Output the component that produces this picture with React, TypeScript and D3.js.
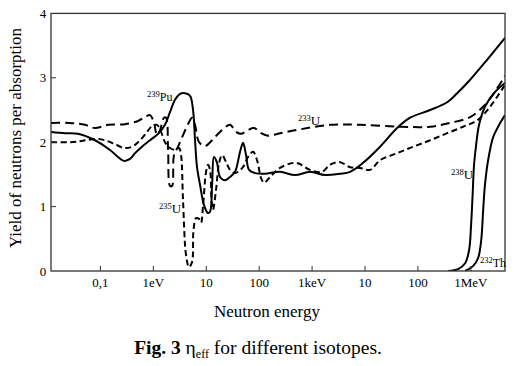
import React from "react";
import * as d3 from "d3";

// Neutron energy (eV) and yield (neutrons per absorption)
const pu239: [number, number][] = [
  [0.0117, 2.16], [0.0214, 2.14], [0.0377, 2.13], [0.079, 2.03], [0.152, 1.88], [0.215, 1.77],
  [0.279, 1.71], [0.363, 1.74], [0.451, 1.83], [0.611, 1.93], [0.866, 2.03], [1.23, 2.13],
  [1.66, 2.27], [2.07, 2.47], [2.57, 2.66], [3.2, 2.75], [3.97, 2.76], [4.94, 2.72],
  [5.63, 2.5], [6.14, 2.03], [6.7, 1.61], [7.63, 1.34], [9.09, 1.02], [10.8, 0.9],
  [11.8, 0.92], [12.9, 1.34], [14.0, 1.77], [16.0, 1.68], [18.2, 1.46], [22.7, 1.41],
  [28.2, 1.46], [35, 1.54], [43.5, 1.85], [49.6, 1.99], [56.5, 1.8], [64.4, 1.57],
  [83.6, 1.52], [129, 1.51], [248, 1.54], [476, 1.49], [916, 1.54], [1760, 1.49],
  [3381, 1.51], [5224, 1.54], [9200, 1.68], [19270, 1.93], [40400, 2.22], [71100, 2.38],
  [170000, 2.5], [357000, 2.62], [551000, 2.76], [970000, 2.97], [2.03e6, 3.28], [4.42e6, 3.62],
];

const u233: [number, number][] = [
  [0.0117, 2.3], [0.0261, 2.3], [0.0512, 2.27], [0.079, 2.22], [0.139, 2.27], [0.292, 2.28],
  [0.514, 2.33], [0.697, 2.39], [0.866, 2.42], [1.03, 2.3], [1.17, 2.11], [1.34, 2.19],
  [1.59, 2.38], [1.74, 2.38], [1.9, 1.88], [2.07, 1.32], [2.26, 1.32], [2.46, 1.8],
  [2.93, 1.93], [3.64, 2.11], [4.53, 2.28], [5.39, 2.38], [6.14, 2.27], [7.31, 2.0],
  [9.5, 1.94], [12.9, 2.03], [18.2, 2.16], [28.2, 2.27], [35.5, 2.17], [45.5, 2.13],
  [61.7, 2.19], [80.1, 2.22], [109, 2.14], [147, 2.1], [248, 2.14], [593, 2.2],
  [2188, 2.27], [8072, 2.27], [46020, 2.24], [170000, 2.24], [406000, 2.3], [970000, 2.39],
  [1.7e6, 2.55], [2.57e6, 2.73], [4.42e6, 3.03],
];

const u235: [number, number][] = [
  [0.0117, 2.0], [0.0261, 2.0], [0.0449, 2.02], [0.079, 2.05], [0.122, 2.03], [0.189, 1.97],
  [0.279, 1.91], [0.396, 1.93], [0.561, 2.03], [0.76, 2.16], [0.945, 2.25], [1.17, 2.27],
  [1.4, 2.16], [1.66, 2.0], [2.07, 1.91], [2.57, 1.88], [3.06, 1.91], [3.34, 1.8],
  [3.64, 1.1], [4.15, 0.25], [4.73, 0.06], [5.39, 0.14], [5.75, 0.64], [6.41, 0.82],
  [7.31, 0.81], [7.97, 0.75], [8.71, 1.02], [9.92, 1.54], [10.8, 1.65], [11.8, 1.57],
  [12.6, 1.1], [13.4, 0.95], [15.3, 1.26], [17.5, 1.68], [19.9, 1.8], [23.7, 1.69],
  [28.2, 1.57], [35, 1.52], [48.1, 1.6], [61.7, 1.77], [76.6, 1.85], [91.2, 1.72],
  [109, 1.44], [124, 1.37], [161, 1.46], [248, 1.6], [499, 1.68], [916, 1.57],
  [1545, 1.54], [2188, 1.65], [3381, 1.69], [5224, 1.61], [8072, 1.6], [12470, 1.57],
  [19270, 1.72], [40400, 1.83], [81100, 1.93], [170000, 2.03], [357000, 2.14],
  [714000, 2.24], [1.32e6, 2.34], [2.3e6, 2.55], [4.42e6, 2.89],
];

const u238: [number, number][] = [
  [372000, 0], [575000, 0.03], [780000, 0.12], [929000, 0.33], [1.01e6, 0.71], [1.08e6, 1.18],
  [1.15e6, 1.65], [1.26e6, 1.96], [1.43e6, 2.27], [1.85e6, 2.55], [2.87e6, 2.78], [4.42e6, 2.92],
];

const th232: [number, number][] = [
  [780000, 0], [1.11e6, 0.08], [1.37e6, 0.2], [1.57e6, 0.48], [1.71e6, 0.95], [1.85e6, 1.34],
  [2.12e6, 1.72], [2.64e6, 2.08], [3.43e6, 2.27], [4.42e6, 2.42],
];

const xTickValues = [0.1, 1, 10, 100, 1e3, 1e4, 1e5, 1e6];
const xTickLabels = ["0,1", "1eV", "10", "100", "1keV", "10", "100", "1MeV"];
const yTickValues = [0, 1, 2, 3, 4];

const FONT = "Liberation Serif, DejaVu Serif, serif";

export default function App() {
  const W = 514, H = 366;
  const left = 51, right = 505, top = 13.4, bottom = 271;
  const x = d3.scaleLog().domain([0.01165, 4.42e6]).range([left, right]);
  const y = d3.scaleLinear().domain([0, 4]).range([bottom, top]);
  const line = d3
    .line<[number, number]>()
    .x((d) => x(d[0]))
    .y((d) => y(d[1]))
    .curve(d3.curveCatmullRom.alpha(0.5));

  const series = [
    { data: u233, dash: "9,5" },
    { data: u235, dash: "6,3.5" },
    { data: pu239, dash: null },
    { data: u238, dash: null },
    { data: th232, dash: null },
  ];

  const iso = (sup: string, el: string, xx: number, yy: number, fs = 13) => (
    <text x={xx} y={yy} fontSize={fs} fill="#000">
      <tspan fontSize={8.5} dy={-4}>{sup}</tspan>
      <tspan dy={4}>{el}</tspan>
    </text>
  );

  return (
    <svg
      width={W}
      height={H}
      style={{ position: "absolute", left: 0, top: 0, background: "#fff", fontFamily: FONT }}
    >
      <defs>
        <clipPath id="plot">
          <rect x={left} y={top} width={right - left} height={bottom - top} />
        </clipPath>
      </defs>
      <g clipPath="url(#plot)">
        {series.map((s, i) => (
          <path
            key={i}
            d={line(s.data) || ""}
            fill="none"
            stroke="#000"
            strokeWidth={2}
            strokeDasharray={s.dash || undefined}
            strokeLinejoin="round"
          />
        ))}
      </g>
      <rect x={left} y={top} width={right - left} height={bottom - top} fill="none" stroke="#333" strokeWidth={1.3} />
      {xTickValues.map((v, i) => (
        <g key={i}>
          <line x1={x(v)} x2={x(v)} y1={bottom} y2={bottom - 5} stroke="#333" strokeWidth={1} />
          <text x={x(v)} y={287} textAnchor="middle" fontSize={13} fill="#000">
            {xTickLabels[i]}
          </text>
        </g>
      ))}
      {yTickValues.map((v) => (
        <g key={v}>
          {v > 0 && v < 4 && <line x1={left} x2={left + 5} y1={y(v)} y2={y(v)} stroke="#333" strokeWidth={1} />}
          <text x={43} y={y(v) + 4.5} textAnchor="middle" fontSize={13} fill="#000">
            {v}
          </text>
        </g>
      ))}
      <text
        transform={`translate(21,138) rotate(-90)`}
        textAnchor="middle"
        fontSize={17}
        fill="#000"
      >
        Yield of neutrons per absorption
      </text>
      <text x={267} y={317} textAnchor="middle" fontSize={17} fill="#000">
        Neutron energy
      </text>
      <text x={258} y={354} textAnchor="middle" fontSize={19.5} fill="#000">
        <tspan fontWeight="bold">Fig. 3 </tspan>
        <tspan>η</tspan>
        <tspan fontSize={12} dy={4}>eff</tspan>
        <tspan dy={-4}> for different isotopes.</tspan>
      </text>
      {iso("239", "Pu", 147, 101, 12)}
      {iso("233", "U", 298, 125)}
      {iso("235", "U", 159, 213)}
      {iso("238", "U", 451, 179)}
      {iso("232", "Th", 480, 267, 12)}
    </svg>
  );
}
